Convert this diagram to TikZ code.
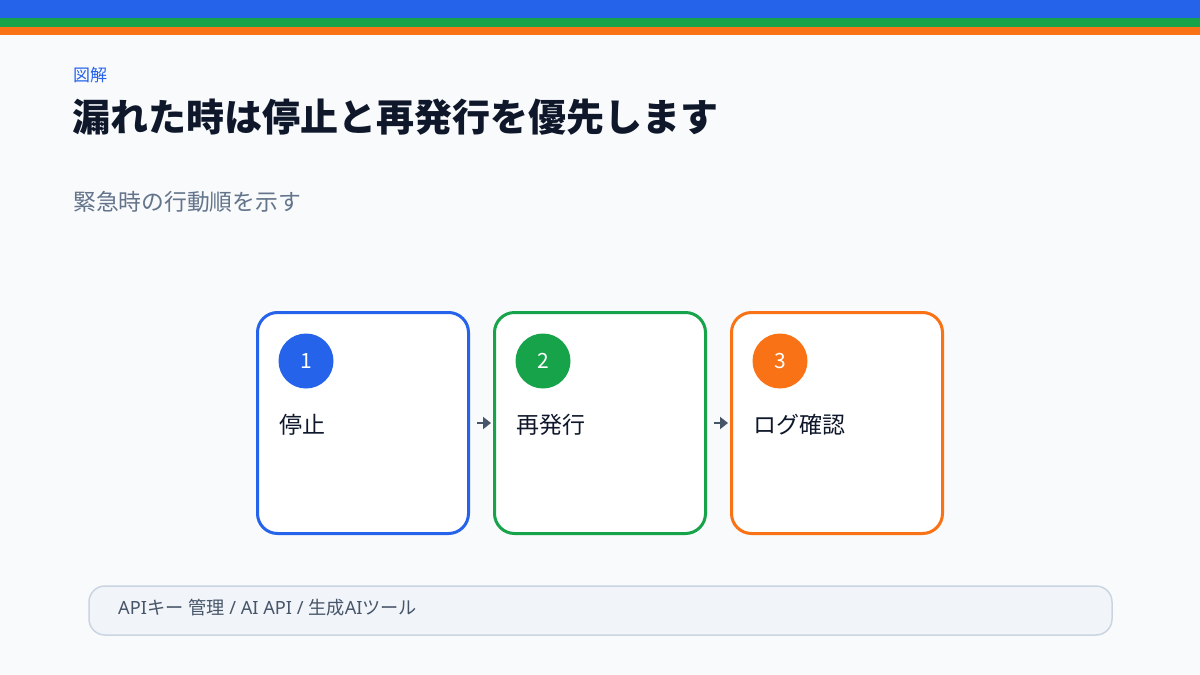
\documentclass[tikz,border=0pt]{standalone}
\usepackage{fontspec}
\setmainfont{Noto Sans CJK JP}
\newfontfamily\latinfont{Noto Sans}
\usetikzlibrary{arrows.meta}
\definecolor{bg}{HTML}{F8FAFC}
\definecolor{cblue}{HTML}{2563EB}
\definecolor{cgreen}{HTML}{16A34A}
\definecolor{corange}{HTML}{F97316}
\definecolor{ink}{HTML}{0F172A}
\definecolor{sub}{HTML}{64748B}
\definecolor{arr}{HTML}{475569}
\definecolor{footfill}{HTML}{F1F5F9}
\definecolor{footline}{HTML}{CBD5E1}
\newcommand{\lt}[1]{{\latinfont #1}}
\begin{document}
\begin{tikzpicture}[x=1pt,y=-1pt,
  stepbox/.style={draw=#1,line width=3pt,fill=white,rounded corners=20pt,minimum width=211pt,minimum height=221pt,inner sep=0pt},
  badge/.style={circle,fill=#1,minimum size=55pt,inner sep=0pt,text=white,font=\fontsize{21}{25}\selectfont},
  lbl/.style={anchor=west,text=ink,font=\fontsize{23}{27}\selectfont,inner sep=0pt},
  flow/.style={draw=arr,line width=2.5pt,-{Triangle[length=8pt,width=12pt]}}]
\useasboundingbox (0,0) rectangle (1200,675);
\fill[bg] (0,0) rectangle (1200,675);
\fill[cblue] (0,0) rectangle (1200,18);
\fill[cgreen] (0,18) rectangle (1200,27);
\fill[corange] (0,27) rectangle (1200,35);
\node[anchor=west,inner sep=0pt,text=cblue,font=\fontsize{17}{20}\selectfont] (kicker) at (73,75) {図解};
\node[anchor=west,inner sep=0pt,text=ink,font=\fontsize{38}{45}\selectfont\bfseries] (title) at (72,117) {漏れた時は停止と再発行を優先します};
\node[anchor=west,inner sep=0pt,text=sub,font=\fontsize{22.8}{27}\selectfont] (subtitle) at (73,202) {緊急時の行動順を示す};
\node[stepbox=cblue] (b1) at (363,423) {};
\node[stepbox=cgreen] (b2) at (600,423) {};
\node[stepbox=corange] (b3) at (837,423) {};
\node[badge=cblue] (c1) at (306,361) {1};
\node[badge=cgreen] (c2) at (543,361) {2};
\node[badge=corange] (c3) at (780,361) {3};
\node[lbl] (t1) at (279,425) {停止};
\node[lbl] (t2) at (516,425) {再発行};
\node[lbl] (t3) at (753,425) {ログ確認};
\coordinate (a1s) at (477,423); \coordinate (a1e) at (491,423);
\coordinate (a2s) at (714,423); \coordinate (a2e) at (728,423);
\draw[flow] (a1s) -- (a1e);
\draw[flow] (a2s) -- (a2e);
\node[draw=footline,line width=1.5pt,fill=footfill,rounded corners=16pt,minimum width=1023pt,minimum height=49pt,inner sep=0pt] (foot) at (600.5,610.5) {};
\node[anchor=west,inner sep=0pt,text=arr,font=\fontsize{18.2}{21}\selectfont] (foottext) at (118,608) {\lt{API}キー\lt{ }管理\lt{ / AI API / }生成\lt{AI}ツール};
\end{tikzpicture}
\end{document}
